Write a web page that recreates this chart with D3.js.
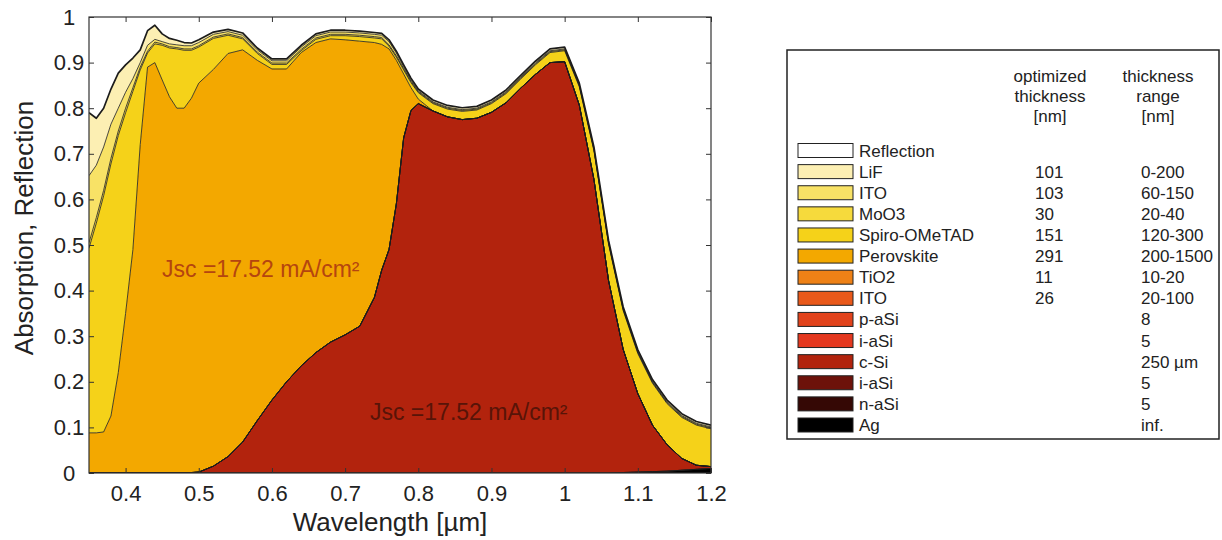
<!DOCTYPE html>
<html>
<head>
<meta charset="utf-8">
<script src="https://cdn.jsdelivr.net/npm/d3@7"></script>
<style>
  body { margin: 0; background: #fff; }
  text { font-family: "Liberation Sans", Arial, sans-serif; }
</style>
</head>
<body>
<svg width="1222" height="540"></svg>
<script>
// wavelength grid [um]
var wavelength = [0.35,0.36,0.37,0.38,0.39,0.40,0.41,0.42,0.43,0.44,
  0.45,0.46,0.47,0.48,0.49,0.50,
  0.52,0.54,0.56,0.58,0.60,0.62,0.64,0.66,0.68,0.70,0.72,0.74,
  0.75,0.76,0.77,0.78,0.79,0.80,
  0.82,0.84,0.86,0.88,0.90,0.92,0.94,0.96,0.98,1.00,1.02,1.04,1.06,1.08,1.10,1.12,1.14,1.16,1.18,1.20];

// absorption per layer (bottom of stack first)
var ag = [0,0,0,0,0,0,0,0,0,0, 0,0,0,0,0,0, 0,0,0,0,0,0,0,0,0,0,0,0, 0,0,0,0,0,0,
  0,0,0,0,0,0,0,0,0,0,0,0,0,0.001,0.002,0.003,0.004,0.006,0.008,0.010];
var naSi = [0,0,0,0,0,0,0,0,0,0, 0,0,0,0,0,0, 0,0,0,0,0,0,0,0,0,0,0,0, 0,0,0,0,0,0,
  0,0,0,0,0,0,0,0,0,0,0,0,0,0,0,0,0,0,0,0];
var iaSiRear = [0,0,0,0,0,0,0,0,0,0, 0,0,0,0,0,0, 0,0,0,0,0,0,0,0,0,0,0,0, 0,0,0,0,0,0,
  0,0,0,0,0,0,0,0,0,0,0,0,0,0,0,0,0,0,0,0];
var cSi = [0,0,0,0,0,0,0,0,0,0, 0.001,0.001,0.001,0.001,0.001,0.002,
  0.015,0.036,0.068,0.115,0.16,0.20,0.235,0.264,0.287,0.303,0.322,0.385,
  0.445,0.49,0.59,0.735,0.795,0.81,
  0.794,0.781,0.775,0.778,0.791,0.812,0.844,0.874,0.90,0.902,0.807,0.644,0.422,0.27,0.172,0.102,0.058,0.026,0.009,0.004];
var iaSiFront = [0,0,0,0,0,0,0,0,0,0, 0,0,0,0,0,0, 0,0,0,0,0,0,0,0,0,0,0,0, 0,0,0,0,0,0,
  0,0,0,0,0,0,0,0,0,0,0,0,0,0,0,0,0,0,0,0];
var paSi = [0,0,0,0,0,0,0,0,0,0, 0,0,0,0,0,0, 0,0,0,0,0,0,0,0,0,0,0,0, 0,0,0,0,0,0,
  0,0,0,0,0,0,0,0,0,0,0,0,0,0,0,0,0,0,0,0];
var itoRear = [0,0,0,0,0,0,0,0,0,0, 0,0,0,0,0,0, 0,0,0,0,0,0,0,0,0,0,0,0, 0,0,0,0,0,0,
  0,0,0,0,0,0,0,0,0,0,0,0,0,0,0,0,0,0,0,0];
var tio2 = [0,0,0,0,0,0,0,0,0,0, 0,0,0,0,0,0, 0,0,0,0,0,0,0,0,0,0,0,0, 0,0,0,0,0,0,
  0,0,0,0,0,0,0,0,0,0,0,0,0,0,0,0,0,0,0,0];
var perovskite = [0.088,0.088,0.09,0.125,0.22,0.35,0.49,0.72,0.89,0.90,
  0.861,0.824,0.799,0.799,0.821,0.853,
  0.87,0.884,0.86,0.79,0.726,0.686,0.687,0.68,0.665,0.647,0.625,0.559,
  0.495,0.44,0.315,0.14,0.05,0.01,
  0,0,0,0,0,0,0,0,0,0,0,0,0,0,0,0,0,0,0,0];
var spiro = [0.405,0.46,0.518,0.553,0.52,0.44,0.347,0.164,0.031,0.041,
  0.076,0.107,0.13,0.127,0.105,0.079,
  0.068,0.040,0.024,0.015,0.010,0.010,0.004,0.007,0.007,0.009,0.010,0.010,
  0.012,0.006,0.007,0.009,0.011,0.014,
  0.016,0.017,0.018,0.018,0.019,0.02,0.02,0.021,0.022,0.024,0.04,0.063,0.08,0.085,0.088,0.092,0.09,0.09,0.088,0.083];
var moo3 = [0.012,0.012,0.012,0.012,0.010,0.010,0.008,0.006,0.004,0.004,
  0.003,0.003,0.003,0.003,0.003,0.003,
  0.003,0.003,0.003,0.003,0.003,0.003,0.003,0.003,0.003,0.003,0.003,0.003,
  0.003,0.003,0.003,0.003,0.003,0.002,
  0.002,0.002,0.002,0.002,0.002,0.002,0.002,0.002,0.002,0.002,0.002,0.002,0.002,0.002,0.002,0.002,0.002,0.002,0.002,0.002];
var itoFront = [0.147,0.115,0.095,0.075,0.05,0.035,0.02,0.01,0.013,0.006,
  0.005,0.006,0.006,0.007,0.007,0.007,
  0.006,0.005,0.005,0.005,0.005,0.005,0.005,0.005,0.005,0.005,0.005,0.005,
  0.005,0.007,0.006,0.004,0.003,0.002,
  0.002,0.002,0.002,0.002,0.002,0.002,0.002,0.002,0.002,0.002,0.002,0.002,0.002,0.002,0.002,0.002,0.002,0.002,0.002,0.002];
var lif = [0.138,0.103,0.085,0.077,0.077,0.06,0.045,0.028,0.032,0.031,
  0.017,0.012,0.01,0.007,0.006,0.006,
  0.005,0.005,0.005,0.004,0.004,0.004,0.004,0.004,0.004,0.004,0.004,0.004,
  0.004,0.004,0.004,0.004,0.004,0.004,
  0.004,0.004,0.004,0.004,0.004,0.004,0.004,0.004,0.004,0.004,0.004,0.004,0.004,0.004,0.004,0.004,0.004,0.004,0.004,0.004];
var reflection = [0.21,0.222,0.20,0.158,0.123,0.105,0.09,0.072,0.03,0.018,
  0.037,0.047,0.051,0.056,0.057,0.05,
  0.033,0.027,0.035,0.068,0.092,0.092,0.062,0.037,0.029,0.029,0.031,0.034,
  0.036,0.05,0.075,0.105,0.134,0.157,
  0.182,0.194,0.199,0.196,0.182,0.16,0.128,0.097,0.07,0.066,0.145,0.285,0.49,0.636,0.73,0.795,0.84,0.87,0.887,0.895];

// legend table (top to bottom)
var legendLabels = ["Reflection","LiF","ITO","MoO3","Spiro-OMeTAD","Perovskite","TiO2","ITO","p-aSi","i-aSi","c-Si","i-aSi","n-aSi","Ag"];
var optThickness = ["","101","103","30","151","291","11","26","","","","","",""];
var thicknessRange = ["","0-200","60-150","20-40","120-300","200-1500","10-20","20-100","8","5","250 µm","5","5","inf."];
var legendColors = ["#ffffff","#fcefb3","#f8e266","#f6da3c","#f5d219","#f3a800","#ee8116","#e9591a","#e1421b","#e4381f","#b2230d","#6d120a","#350805","#000000"];
var legendKeys = ["Reflection","LiF","ITOFront","MoO3","Spiro","Perovskite","TiO2","ITORear","pASi","iASiFront","cSi","iASiRear","nASi","Ag"];

var xTicks = [0.4,0.5,0.6,0.7,0.8,0.9,1.0,1.1,1.2];
var xTickLabels = ["0.4","0.5","0.6","0.7","0.8","0.9","1","1.1","1.2"];
var yTicks = [0,0.1,0.2,0.3,0.4,0.5,0.6,0.7,0.8,0.9,1];
var yTickLabels = ["0","0.1","0.2","0.3","0.4","0.5","0.6","0.7","0.8","0.9","1"];

var svg = d3.select("svg"),
    left = 89, plotTop = 17,
    width = 622, height = 456;

var x = d3.scaleLinear().domain([0.35, 1.2]).range([0, width]),
    y = d3.scaleLinear().domain([0, 1]).range([height, 0]);

// stack order bottom -> top
var layerValues = {
  Ag: ag, nASi: naSi, iASiRear: iaSiRear, cSi: cSi, iASiFront: iaSiFront, pASi: paSi,
  ITORear: itoRear, TiO2: tio2, Perovskite: perovskite, Spiro: spiro, MoO3: moo3,
  ITOFront: itoFront, LiF: lif, Reflection: reflection
};
var stackKeys = legendKeys.slice().reverse();
var colorOf = {};
legendKeys.forEach(function(k, i) { colorOf[k] = legendColors[i]; });

var rows = wavelength.map(function(w, i) {
  var r = { wl: w };
  stackKeys.forEach(function(k) { r[k] = layerValues[k][i]; });
  return r;
});
var series = d3.stack().keys(stackKeys)(rows);

var g = svg.append("g")
    .attr("transform", "translate(" + left + "," + plotTop + ")");

g.append("clipPath").attr("id", "plotClip")
  .append("rect").attr("width", width).attr("height", height);

var area = d3.area()
    .x(function(d) { return x(d.data.wl); })
    .y0(function(d) { return y(d[0]); })
    .y1(function(d) { return y(d[1]); });
var edge = d3.line()
    .x(function(d) { return x(d.data.wl); })
    .y(function(d) { return y(d[1]); });

var plot = g.append("g").attr("clip-path", "url(#plotClip)");

plot.selectAll(".layer")
  .data(series)
  .enter().append("path")
  .attr("class", "layer")
  .attr("fill", function(d) { return colorOf[d.key]; })
  .attr("d", area);

plot.selectAll(".edge")
  .data(series.filter(function(d) { return d.key !== "Reflection"; }))
  .enter().append("path")
  .attr("class", "edge")
  .attr("fill", "none")
  .attr("stroke", "#1c1c1c")
  .attr("stroke-width", function(d) { return d.key === "LiF" ? 1.7 : 0.8; })
  .attr("stroke-linejoin", "round")
  .attr("d", edge);

// Jsc annotations
g.append("text")
  .attr("x", x(0.4498)).attr("y", y(0.43))
  .style("font-size", "23px").attr("fill", "#b5450f")
  .text("Jsc =17.52 mA/cm²");
g.append("text")
  .attr("x", x(0.734)).attr("y", y(0.116))
  .style("font-size", "23px").attr("fill", "#581408")
  .text("Jsc =17.52 mA/cm²");

// axes, MATLAB style: ticks inside, box all round
function styleAxis(sel) {
  sel.select(".domain").remove();
  sel.selectAll(".tick line").attr("stroke", "#333");
  sel.selectAll(".tick text").style("font-size", "22px").attr("fill", "#222");
}

g.append("g")
  .attr("transform", "translate(0," + height + ")")
  .call(d3.axisBottom(x).tickValues(xTicks)
    .tickFormat(function(d, i) { return xTickLabels[i]; })
    .tickSizeInner(-5).tickSizeOuter(0).tickPadding(12))
  .call(styleAxis);

g.append("g")
  .call(d3.axisTop(x).tickValues(xTicks).tickFormat("").tickSizeInner(-5).tickSizeOuter(0))
  .call(styleAxis);

g.append("g")
  .call(d3.axisLeft(y).tickValues(yTicks)
    .tickFormat(function(d, i) { return yTickLabels[i]; })
    .tickSizeInner(-5).tickSizeOuter(0))
  .call(styleAxis)
  .selectAll(".tick text")
  .attr("x", -20)
  .attr("text-anchor", "middle");

g.append("g")
  .attr("transform", "translate(" + width + ",0)")
  .call(d3.axisRight(y).tickValues(yTicks).tickFormat("").tickSizeInner(-5).tickSizeOuter(0))
  .call(styleAxis);

g.append("rect")
  .attr("width", width).attr("height", height)
  .attr("fill", "none").attr("stroke", "#333").attr("stroke-width", 1.2);

// axis titles
svg.append("text")
  .attr("transform", "translate(33,228) rotate(-90)")
  .attr("text-anchor", "middle")
  .style("font-size", "26px").attr("fill", "#222")
  .text("Absorption, Reflection");

svg.append("text")
  .attr("x", 390).attr("y", 531)
  .attr("text-anchor", "middle")
  .style("font-size", "26px").attr("fill", "#222")
  .text("Wavelength [µm]");

// legend / thickness table
var leg = svg.append("g");
leg.append("rect")
  .attr("x", 787).attr("y", 50).attr("width", 432).attr("height", 389)
  .attr("fill", "#fff").attr("stroke", "#222").attr("stroke-width", 1.5);

var head1 = ["optimized", "thickness", "[nm]"],
    head2 = ["thickness", "range", "[nm]"];
head1.forEach(function(t, i) {
  leg.append("text").attr("x", 1050).attr("y", 82 + i * 20)
    .attr("text-anchor", "middle").style("font-size", "17px").attr("fill", "#222").text(t);
});
head2.forEach(function(t, i) {
  leg.append("text").attr("x", 1158).attr("y", 82 + i * 20)
    .attr("text-anchor", "middle").style("font-size", "17px").attr("fill", "#222").text(t);
});

var rowY = d3.scaleLinear().domain([0, legendLabels.length - 1]).range([150.5, 425]);

var item = leg.selectAll(".item")
  .data(legendLabels)
  .enter().append("g")
  .attr("class", "item")
  .attr("transform", function(d, i) { return "translate(0," + rowY(i) + ")"; });

item.append("rect")
  .attr("x", 798).attr("y", -7).attr("width", 55).attr("height", 14)
  .attr("fill", function(d, i) { return legendColors[i]; })
  .attr("stroke", "#222").attr("stroke-width", 1);

item.append("text")
  .attr("x", 859).attr("y", 6)
  .style("font-size", "17px").attr("fill", "#222")
  .text(function(d) { return d; });

item.append("text")
  .attr("x", 1035).attr("y", 6)
  .style("font-size", "17px").attr("fill", "#222")
  .text(function(d, i) { return optThickness[i]; });

item.append("text")
  .attr("x", 1141).attr("y", 6)
  .style("font-size", "17px").attr("fill", "#222")
  .text(function(d, i) { return thicknessRange[i]; });
</script>
</body>
</html>
